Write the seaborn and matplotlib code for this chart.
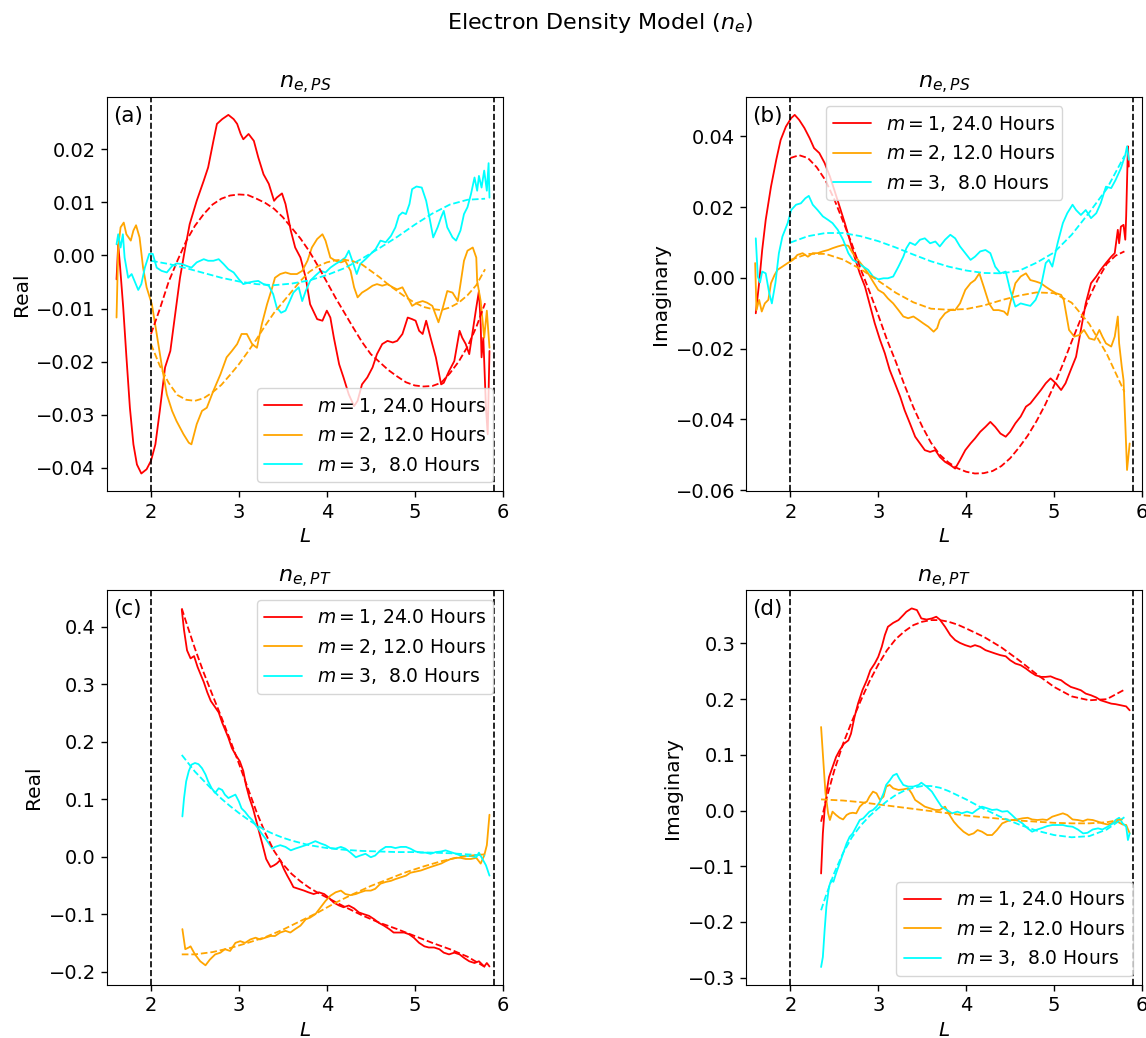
import matplotlib
matplotlib.use("Agg")
import matplotlib.pyplot as plt
import pandas as pd
import seaborn as sns
from matplotlib.ticker import MultipleLocator

# ---------------- data ----------------
mode_labels = [r"$m = 1$, 24.0 Hours", r"$m = 2$, 12.0 Hours", r"$m = 3$,  8.0 Hours"]
mode_colors = ["red", "orange", "cyan"]
x_ticks = [2, 3, 4, 5, 6]
boundary_L = [2.0, 5.9]

# (a) n_e,PS real part
a_m1_L = [1.608,1.627,1.646,1.684,1.72,1.76,1.80,1.84,1.89,1.95,2.0,2.05,2.10,2.16,2.22,2.27,2.33,2.39,2.44,2.52,2.60,2.65,2.71,2.75,2.81,2.88,2.94,2.98,3.02,3.05,3.11,3.17,3.22,3.28,3.34,3.40,3.43,3.49,3.53,3.59,3.64,3.70,3.76,3.81,3.89,3.95,4.00,4.04,4.08,4.14,4.19,4.25,4.31,4.35,4.40,4.46,4.52,4.57,4.63,4.69,4.75,4.80,4.86,4.92,4.97,5.01,5.05,5.09,5.13,5.18,5.24,5.30,5.33,5.39,5.45,5.51,5.54,5.58,5.62,5.66,5.70,5.73,5.75,5.76,5.78,5.81,5.83,5.85]
a_m1 = [-0.0045,0.0021,-0.0016,-0.0098,-0.019,-0.0287,-0.0356,-0.0394,-0.0411,-0.0403,-0.0387,-0.0356,-0.0293,-0.0211,-0.018,-0.0117,-0.0042,0.0015,0.0059,0.0103,0.0141,0.0166,0.0216,0.0248,0.0257,0.0265,0.0257,0.0248,0.0229,0.0219,0.0229,0.0216,0.0185,0.0153,0.0135,0.0103,0.0109,0.0117,0.0097,0.0047,0.0015,-0.0004,-0.0042,-0.0092,-0.012,-0.0123,-0.0104,-0.0117,-0.0155,-0.0205,-0.023,-0.0262,-0.0284,-0.0274,-0.0243,-0.023,-0.0211,-0.0186,-0.0167,-0.0161,-0.0164,-0.0161,-0.0148,-0.0117,-0.012,-0.0123,-0.0142,-0.0148,-0.0123,-0.0155,-0.0192,-0.0243,-0.024,-0.0218,-0.0199,-0.0142,-0.0155,-0.0167,-0.0186,-0.0142,-0.0098,-0.0067,-0.013,-0.0192,-0.0155,-0.0287,-0.0337,-0.018]
a_m2_L = [1.608,1.627,1.654,1.69,1.72,1.77,1.80,1.83,1.87,1.91,1.95,2.01,2.065,2.12,2.18,2.24,2.29,2.37,2.43,2.46,2.52,2.58,2.635,2.71,2.79,2.86,2.92,2.98,3.03,3.09,3.15,3.205,3.26,3.32,3.38,3.41,3.47,3.53,3.59,3.66,3.72,3.78,3.83,3.89,3.95,3.985,4.04,4.10,4.16,4.21,4.27,4.31,4.35,4.40,4.46,4.52,4.57,4.63,4.69,4.75,4.80,4.86,4.92,4.97,5.03,5.09,5.14,5.20,5.27,5.32,5.37,5.43,5.49,5.52,5.56,5.60,5.66,5.70,5.71,5.75,5.79,5.82,5.85]
a_m2 = [-0.0117,0.0015,0.0053,0.0062,0.0040,0.0028,0.0047,0.0057,0.0034,-0.0023,-0.0060,-0.0092,-0.0148,-0.0205,-0.0262,-0.0293,-0.0312,-0.0337,-0.0353,-0.0356,-0.0318,-0.0293,-0.0287,-0.0255,-0.0224,-0.0192,-0.0180,-0.0167,-0.0148,-0.0148,-0.0167,-0.0174,-0.0130,-0.0092,-0.0060,-0.0042,-0.0035,-0.0032,-0.0035,-0.0035,-0.0029,-0.0010,0.0015,0.0031,0.0040,0.0028,-0.0004,-0.0010,-0.0013,-0.0010,-0.0029,-0.0060,-0.0079,-0.0070,-0.0064,-0.0057,-0.0054,-0.0057,-0.0054,-0.0060,-0.0064,-0.0060,-0.0079,-0.0095,-0.0089,-0.0086,-0.0089,-0.0095,-0.0126,-0.0098,-0.0067,-0.0070,-0.0086,-0.0054,-0.0010,0.0009,0.0015,-0.0004,-0.0048,-0.0086,-0.0155,-0.0104,-0.0174]
a_m3_L = [1.608,1.627,1.654,1.68,1.70,1.74,1.78,1.82,1.855,1.89,1.93,1.98,2.02,2.065,2.12,2.18,2.24,2.29,2.35,2.41,2.46,2.52,2.60,2.65,2.71,2.77,2.825,2.88,2.94,3.00,3.05,3.11,3.17,3.22,3.28,3.34,3.39,3.43,3.48,3.53,3.57,3.62,3.68,3.72,3.76,3.81,3.87,3.93,3.985,4.04,4.10,4.16,4.21,4.25,4.29,4.34,4.38,4.44,4.50,4.555,4.61,4.67,4.73,4.78,4.82,4.86,4.90,4.94,4.97,5.02,5.08,5.13,5.16,5.21,5.26,5.30,5.33,5.37,5.43,5.47,5.52,5.56,5.60,5.64,5.68,5.71,5.73,5.76,5.79,5.82,5.84,5.85]
a_m3 = [0.0021,0.0040,0.0015,0.0040,-0.0004,-0.0042,-0.0035,-0.0051,-0.0065,-0.0054,-0.0023,0.0003,0.0003,-0.0023,-0.0029,-0.0032,-0.0020,-0.0015,-0.0016,-0.0020,-0.0023,-0.0013,-0.0007,-0.0010,-0.0010,-0.0007,-0.0016,-0.0026,-0.0032,-0.0045,-0.0054,-0.0051,-0.0049,-0.0048,-0.0054,-0.0057,-0.0073,-0.0098,-0.0108,-0.0104,-0.0089,-0.0070,-0.0060,-0.0086,-0.0067,-0.0048,-0.0038,-0.0029,-0.0032,-0.0023,-0.0016,-0.0010,-0.0004,0.0009,-0.0010,-0.0035,-0.0016,-0.0007,0.0003,0.0012,0.0028,0.0025,0.0037,0.0053,0.0075,0.0081,0.0078,0.0097,0.0125,0.0130,0.0128,0.0103,0.0078,0.0034,0.0053,0.0072,0.0084,0.0053,0.0034,0.0028,0.0047,0.0078,0.0091,0.0116,0.0147,0.0122,0.0150,0.0128,0.0160,0.0122,0.0174,0.0109]
fit_L_fine = [2.0,2.1,2.2,2.3,2.4,2.5,2.6,2.7,2.8,2.9,3.0,3.1,3.2,3.3,3.4,3.5,3.6,3.7,3.8,3.9,4.0,4.1,4.2,4.3,4.4,4.5,4.6,4.7,4.8,4.9,5.0,5.1,5.2,5.3,5.4,5.5,5.6,5.7,5.8]
fit_L_coarse = [2.0,2.2,2.4,2.6,2.8,3.0,3.2,3.4,3.6,3.8,4.0,4.2,4.4,4.6,4.8,5.0,5.2,5.4,5.6,5.8]
a_m1_fit = [-0.0148,-0.0101,-0.0050,-0.0010,0.0027,0.0056,0.0078,0.0096,0.0107,0.0113,0.0115,0.0114,0.0107,0.0099,0.0088,0.0072,0.0052,0.0032,0.0008,-0.0020,-0.0050,-0.0080,-0.0108,-0.0136,-0.0163,-0.0186,-0.0201,-0.0216,-0.0228,-0.0239,-0.0245,-0.0247,-0.0246,-0.0240,-0.0222,-0.0200,-0.0172,-0.0135,-0.0090]
a_m2_fit = [-0.0167,-0.0208,-0.0240,-0.0263,-0.0272,-0.0274,-0.0269,-0.0258,-0.0244,-0.0225,-0.0205,-0.0182,-0.0158,-0.0132,-0.0108,-0.0088,-0.0068,-0.0048,-0.0031,-0.0020,-0.0013,-0.0009,-0.0008,-0.0011,-0.0017,-0.0029,-0.0041,-0.0055,-0.0067,-0.0079,-0.0089,-0.0097,-0.0101,-0.0103,-0.0098,-0.0089,-0.0075,-0.0056,-0.0026]
a_m3_fit = [-0.0010,-0.0016,-0.0024,-0.0033,-0.0042,-0.0049,-0.0054,-0.0056,-0.0053,-0.0047,-0.0037,-0.0024,-0.0006,0.0014,0.0035,0.0058,0.0079,0.0096,0.0105,0.0107]

# (b) n_e,PS imaginary part
b_m1_L = [1.607,1.645,1.68,1.72,1.78,1.84,1.89,1.95,2.01,2.05,2.10,2.16,2.22,2.27,2.33,2.39,2.45,2.50,2.56,2.62,2.675,2.73,2.79,2.85,2.90,2.96,3.02,3.075,3.13,3.19,3.25,3.30,3.36,3.42,3.475,3.53,3.59,3.65,3.70,3.76,3.82,3.875,3.93,3.99,4.05,4.10,4.16,4.22,4.275,4.33,4.39,4.45,4.50,4.56,4.62,4.68,4.73,4.79,4.85,4.905,4.96,5.02,5.08,5.13,5.19,5.25,5.305,5.36,5.42,5.48,5.53,5.59,5.65,5.69,5.725,5.74,5.76,5.79,5.81,5.82,5.84,5.85]
b_m1 = [-0.0100,-0.0015,0.0079,0.0164,0.0258,0.0334,0.0390,0.0428,0.0452,0.0461,0.0447,0.0424,0.0395,0.0367,0.0353,0.0325,0.0287,0.0249,0.0202,0.0155,0.0108,0.0060,0.0013,-0.0025,-0.0072,-0.0128,-0.0175,-0.0213,-0.0260,-0.0298,-0.0336,-0.0374,-0.0411,-0.0449,-0.0468,-0.0487,-0.0492,-0.0487,-0.0506,-0.0520,-0.0529,-0.0539,-0.0515,-0.0487,-0.0468,-0.0454,-0.0435,-0.0421,-0.0407,-0.0421,-0.0440,-0.0449,-0.0435,-0.0411,-0.0392,-0.0364,-0.0355,-0.0336,-0.0317,-0.0298,-0.0284,-0.0298,-0.0317,-0.0298,-0.0260,-0.0223,-0.0147,-0.0072,-0.0015,0.0004,0.0023,0.0042,0.0060,0.0070,0.0136,0.0098,0.0145,0.0150,0.0108,0.0174,0.0372,0.0315]
b_m2_L = [1.60,1.615,1.645,1.675,1.71,1.75,1.78,1.82,1.855,1.91,1.97,2.03,2.08,2.14,2.20,2.255,2.31,2.37,2.43,2.48,2.54,2.60,2.66,2.71,2.77,2.83,2.885,2.94,3.00,3.06,3.11,3.17,3.23,3.285,3.34,3.40,3.46,3.51,3.57,3.63,3.67,3.70,3.76,3.82,3.875,3.93,3.99,4.05,4.10,4.15,4.20,4.26,4.31,4.37,4.43,4.47,4.50,4.56,4.62,4.68,4.73,4.79,4.85,4.905,4.96,5.02,5.08,5.11,5.17,5.23,5.29,5.34,5.40,5.46,5.515,5.55,5.59,5.65,5.69,5.725,5.74,5.77,5.79,5.81,5.83,5.86]
b_m2 = [0.0042,-0.0091,-0.0062,-0.0095,-0.0072,-0.0062,-0.0015,0.0008,0.0023,0.0032,0.0042,0.0051,0.0065,0.0070,0.0060,0.0070,0.0070,0.0075,0.0079,0.0084,0.0089,0.0093,0.0091,0.0070,0.0051,0.0032,0.0013,-0.0010,-0.0034,-0.0043,-0.0058,-0.0072,-0.0091,-0.0109,-0.0114,-0.0109,-0.0119,-0.0128,-0.0138,-0.0152,-0.0142,-0.0119,-0.0100,-0.0091,-0.0091,-0.0072,-0.0034,-0.0015,-0.0006,0.0013,-0.0025,-0.0072,-0.0091,-0.0091,-0.0095,-0.0105,-0.0072,-0.0015,0.0004,0.0013,-0.0006,-0.0010,-0.0015,-0.0025,-0.0034,-0.0043,-0.0048,-0.0062,-0.0147,-0.0166,-0.0161,-0.0147,-0.0171,-0.0175,-0.0147,-0.0166,-0.0185,-0.0194,-0.0166,-0.0109,-0.0185,-0.0251,-0.0289,-0.0411,-0.0543,-0.0468]
b_m3_L = [1.607,1.63,1.655,1.68,1.72,1.76,1.79,1.83,1.87,1.91,1.97,2.01,2.065,2.12,2.17,2.21,2.255,2.31,2.37,2.43,2.48,2.54,2.60,2.66,2.71,2.77,2.83,2.885,2.94,3.00,3.06,3.11,3.17,3.23,3.285,3.32,3.36,3.42,3.475,3.53,3.59,3.65,3.70,3.76,3.82,3.875,3.93,3.99,4.05,4.10,4.16,4.22,4.275,4.33,4.39,4.45,4.50,4.56,4.62,4.68,4.73,4.79,4.85,4.905,4.94,4.98,5.04,5.10,5.15,5.21,5.25,5.305,5.36,5.42,5.48,5.53,5.59,5.65,5.70,5.76,5.81,5.83,5.85]
b_m3 = [0.0112,0.0004,-0.0013,0.0018,0.0013,-0.0043,-0.0072,-0.0015,0.0070,0.0117,0.0155,0.0192,0.0207,0.0211,0.0225,0.0232,0.0207,0.0192,0.0174,0.0164,0.0155,0.0136,0.0108,0.0070,0.0051,0.0042,0.0032,0.0023,0.0004,-0.0004,-0.0001,-0.0001,0.0004,0.0032,0.0060,0.0084,0.0100,0.0093,0.0108,0.0112,0.0098,0.0103,0.0089,0.0108,0.0122,0.0112,0.0089,0.0070,0.0051,0.0060,0.0075,0.0079,0.0070,0.0032,0.0013,0.0018,-0.0034,-0.0081,-0.0072,-0.0076,-0.0079,-0.0062,-0.0025,0.0042,0.0051,0.0032,0.0098,0.0155,0.0183,0.0207,0.0192,0.0178,0.0192,0.0169,0.0183,0.0211,0.0258,0.0254,0.0277,0.0310,0.0348,0.0372,0.0334]
b_m1_fit = [0.0339,0.0347,0.0339,0.0313,0.0276,0.0222,0.0160,0.0096,0.0025,-0.0038,-0.0105,-0.0175,-0.0237,-0.0304,-0.0366,-0.0420,-0.0466,-0.0500,-0.0522,-0.0538,-0.0548,-0.0553,-0.0552,-0.0546,-0.0532,-0.0510,-0.0480,-0.0446,-0.0405,-0.0358,-0.0304,-0.0244,-0.0180,-0.0118,-0.0055,-0.0003,0.0040,0.0063,0.0075]
b_m2_fit = [0.0051,0.0068,0.0068,0.0052,0.0025,-0.0008,-0.0042,-0.0069,-0.0087,-0.0090,-0.0088,-0.0078,-0.0063,-0.0050,-0.0041,-0.0043,-0.0070,-0.0130,-0.0215,-0.0322]
b_m3_fit = [0.0100,0.0118,0.0127,0.0127,0.0118,0.0104,0.0086,0.0066,0.0047,0.0032,0.0021,0.0014,0.0013,0.0020,0.0043,0.0072,0.0122,0.0185,0.0252,0.0345]

# (c) n_e,PT real part
c_m1_L = [2.35,2.376,2.41,2.45,2.49,2.53,2.57,2.60,2.64,2.68,2.73,2.77,2.81,2.84,2.88,2.92,2.96,3.01,3.05,3.08,3.12,3.16,3.20,3.24,3.27,3.31,3.36,3.40,3.43,3.47,3.51,3.55,3.59,3.62,3.68,3.74,3.79,3.85,3.91,3.97,4.02,4.08,4.14,4.19,4.25,4.31,4.365,4.42,4.48,4.54,4.59,4.65,4.71,4.76,4.82,4.88,4.935,4.99,5.05,5.11,5.16,5.22,5.28,5.33,5.39,5.45,5.51,5.56,5.62,5.68,5.73,5.79,5.82,5.85]
c_m1 = [0.430,0.394,0.359,0.345,0.349,0.330,0.315,0.304,0.286,0.271,0.260,0.251,0.233,0.222,0.207,0.189,0.178,0.166,0.149,0.125,0.102,0.084,0.061,0.037,0.020,-0.004,-0.018,-0.015,-0.012,-0.006,-0.021,-0.033,-0.044,-0.053,-0.056,-0.059,-0.062,-0.065,-0.062,-0.065,-0.071,-0.080,-0.085,-0.088,-0.085,-0.090,-0.097,-0.100,-0.103,-0.109,-0.115,-0.120,-0.126,-0.132,-0.132,-0.132,-0.135,-0.141,-0.150,-0.156,-0.158,-0.158,-0.161,-0.167,-0.170,-0.167,-0.170,-0.176,-0.182,-0.185,-0.182,-0.191,-0.185,-0.191]
c_m2_L = [2.357,2.39,2.43,2.45,2.50,2.56,2.62,2.67,2.73,2.79,2.84,2.90,2.96,3.015,3.07,3.13,3.19,3.24,3.30,3.36,3.41,3.47,3.53,3.585,3.64,3.70,3.76,3.81,3.87,3.93,3.985,4.04,4.10,4.16,4.21,4.27,4.33,4.38,4.44,4.50,4.55,4.61,4.67,4.73,4.78,4.84,4.90,4.95,5.01,5.07,5.125,5.18,5.24,5.30,5.35,5.41,5.47,5.52,5.58,5.64,5.70,5.75,5.79,5.82,5.85]
c_m2 = [-0.126,-0.161,-0.158,-0.156,-0.170,-0.182,-0.189,-0.179,-0.170,-0.167,-0.161,-0.164,-0.150,-0.147,-0.150,-0.144,-0.141,-0.144,-0.141,-0.138,-0.138,-0.132,-0.129,-0.132,-0.126,-0.120,-0.109,-0.106,-0.100,-0.088,-0.077,-0.068,-0.062,-0.059,-0.065,-0.067,-0.065,-0.062,-0.059,-0.059,-0.056,-0.047,-0.044,-0.042,-0.039,-0.036,-0.033,-0.028,-0.026,-0.024,-0.021,-0.018,-0.015,-0.012,-0.008,-0.004,-0.002,-0.002,-0.004,-0.004,-0.002,-0.012,0.002,0.020,0.073]
c_m3_L = [2.357,2.376,2.40,2.43,2.46,2.50,2.54,2.58,2.62,2.65,2.69,2.73,2.77,2.81,2.84,2.88,2.92,2.96,3.00,3.03,3.07,3.11,3.15,3.19,3.22,3.26,3.30,3.34,3.38,3.41,3.47,3.53,3.59,3.64,3.70,3.76,3.81,3.87,3.93,3.985,4.04,4.10,4.16,4.21,4.27,4.33,4.38,4.44,4.50,4.55,4.61,4.67,4.73,4.78,4.84,4.90,4.95,5.01,5.07,5.125,5.18,5.24,5.30,5.35,5.41,5.47,5.52,5.58,5.64,5.70,5.73,5.77,5.81,5.85]
c_m3 = [0.070,0.102,0.131,0.149,0.160,0.163,0.161,0.154,0.143,0.131,0.119,0.111,0.119,0.116,0.108,0.102,0.105,0.108,0.096,0.084,0.078,0.070,0.064,0.055,0.049,0.040,0.032,0.023,0.014,0.017,0.020,0.017,0.011,0.014,0.017,0.020,0.023,0.027,0.023,0.020,0.015,0.014,0.017,0.014,0.007,-0.001,0.002,0.005,-0.001,0.002,0.011,0.017,0.017,0.015,0.017,0.017,0.014,0.009,0.007,0.007,0.005,0.008,0.009,0.011,0.008,0.005,0.002,0.001,0.001,-0.001,0.007,-0.004,-0.015,-0.033]
c_m1_fit_L = [2.35,2.4,2.5,2.6,2.7,2.8,2.9,3.0,3.1,3.2,3.3,3.4,3.5,3.6,3.7,3.8,3.9,4.0,4.2,4.4,4.6,4.8,5.0,5.2,5.4,5.6,5.8]
c_m1_fit = [0.432,0.408,0.362,0.320,0.281,0.243,0.203,0.162,0.120,0.078,0.041,0.010,-0.013,-0.030,-0.043,-0.054,-0.063,-0.071,-0.087,-0.102,-0.115,-0.126,-0.138,-0.150,-0.161,-0.174,-0.192]
c_m2_fit_L = [2.35,2.5,2.7,2.9,3.1,3.3,3.5,3.7,3.9,4.1,4.3,4.5,4.7,4.9,5.1,5.3,5.5,5.7,5.8]
c_m2_fit = [-0.170,-0.170,-0.166,-0.159,-0.150,-0.140,-0.127,-0.112,-0.097,-0.080,-0.065,-0.051,-0.039,-0.027,-0.017,-0.008,-0.001,0.003,0.004]
c_m3_fit_L = [2.35,2.5,2.6,2.7,2.8,2.9,3.0,3.1,3.2,3.3,3.4,3.5,3.6,3.8,4.0,4.2,4.4,4.6,4.8,5.0,5.2,5.4,5.6,5.8]
c_m3_fit = [0.177,0.148,0.132,0.116,0.101,0.088,0.076,0.065,0.055,0.046,0.039,0.033,0.028,0.020,0.015,0.012,0.010,0.009,0.008,0.008,0.007,0.006,0.004,0.002]

# (d) n_e,PT imaginary part
d_m1_L = [2.35,2.37,2.39,2.41,2.44,2.48,2.52,2.56,2.61,2.66,2.69,2.73,2.77,2.82,2.87,2.91,2.96,3.00,3.04,3.075,3.11,3.17,3.23,3.285,3.32,3.38,3.44,3.49,3.55,3.61,3.66,3.70,3.76,3.82,3.875,3.93,3.99,4.05,4.10,4.16,4.22,4.275,4.33,4.39,4.45,4.50,4.56,4.62,4.68,4.73,4.79,4.85,4.905,4.96,5.02,5.08,5.13,5.19,5.25,5.305,5.36,5.42,5.48,5.53,5.59,5.65,5.70,5.76,5.82,5.86]
d_m1 = [-0.113,-0.041,0.001,0.031,0.060,0.078,0.096,0.108,0.120,0.126,0.138,0.168,0.192,0.216,0.234,0.252,0.264,0.276,0.294,0.315,0.330,0.337,0.342,0.351,0.357,0.363,0.360,0.345,0.343,0.345,0.348,0.343,0.330,0.315,0.306,0.301,0.297,0.294,0.297,0.294,0.288,0.285,0.282,0.279,0.277,0.270,0.264,0.261,0.255,0.249,0.243,0.240,0.240,0.241,0.237,0.234,0.228,0.222,0.219,0.216,0.210,0.207,0.203,0.198,0.195,0.192,0.191,0.189,0.187,0.180]
d_m2_L = [2.35,2.38,2.40,2.43,2.45,2.48,2.52,2.56,2.60,2.64,2.675,2.71,2.75,2.79,2.83,2.87,2.90,2.94,2.98,3.02,3.06,3.09,3.13,3.17,3.23,3.285,3.34,3.38,3.42,3.475,3.53,3.59,3.65,3.70,3.76,3.80,3.86,3.91,3.97,4.03,4.085,4.13,4.18,4.24,4.295,4.35,4.41,4.47,4.52,4.58,4.64,4.70,4.75,4.81,4.87,4.92,4.98,5.04,5.10,5.15,5.21,5.27,5.33,5.38,5.44,5.50,5.55,5.61,5.67,5.72,5.78,5.82,5.86]
d_m2 = [0.150,0.078,0.031,-0.005,-0.017,-0.002,-0.008,-0.013,-0.016,-0.008,-0.005,-0.004,-0.005,0.007,0.013,0.016,0.025,0.034,0.031,0.019,0.025,0.043,0.046,0.040,0.037,0.038,0.040,0.031,0.019,0.013,0.007,0.004,0.001,0.001,0.007,-0.005,-0.020,-0.029,-0.038,-0.044,-0.041,-0.035,-0.038,-0.044,-0.044,-0.035,-0.023,-0.019,-0.017,-0.016,-0.014,-0.013,-0.016,-0.017,-0.016,-0.017,-0.011,-0.008,-0.005,-0.008,-0.016,-0.017,-0.019,-0.016,-0.017,-0.020,-0.023,-0.025,-0.022,-0.020,-0.025,-0.026,-0.041]
d_m3_L = [2.35,2.37,2.39,2.41,2.44,2.465,2.49,2.52,2.56,2.60,2.64,2.675,2.71,2.75,2.79,2.83,2.865,2.90,2.94,2.98,3.02,3.06,3.09,3.13,3.17,3.21,3.24,3.285,3.34,3.40,3.46,3.49,3.55,3.61,3.67,3.72,3.78,3.84,3.90,3.95,4.01,4.07,4.12,4.18,4.24,4.295,4.35,4.41,4.47,4.52,4.58,4.64,4.70,4.75,4.81,4.87,4.92,4.98,5.04,5.10,5.15,5.21,5.27,5.33,5.38,5.44,5.50,5.55,5.61,5.67,5.70,5.74,5.78,5.82,5.84,5.86]
d_m3 = [-0.281,-0.263,-0.215,-0.173,-0.137,-0.125,-0.128,-0.113,-0.095,-0.077,-0.059,-0.047,-0.041,-0.029,-0.017,-0.014,-0.008,-0.002,0.001,0.007,0.016,0.031,0.046,0.054,0.063,0.066,0.057,0.046,0.043,0.043,0.046,0.050,0.043,0.034,0.019,0.007,0.001,-0.005,-0.002,-0.005,-0.002,-0.005,0.001,0.007,0.004,0.001,0.002,-0.002,-0.001,-0.008,-0.017,-0.023,-0.032,-0.038,-0.034,-0.031,-0.028,-0.026,-0.026,-0.026,-0.028,-0.029,-0.034,-0.041,-0.040,-0.034,-0.032,-0.034,-0.029,-0.023,-0.017,-0.013,-0.023,-0.029,-0.053,-0.041]
d_m1_fit_L = [2.35,2.4,2.5,2.6,2.7,2.8,2.9,3.0,3.1,3.2,3.3,3.4,3.5,3.6,3.7,3.8,3.9,4.0,4.2,4.4,4.6,4.8,5.0,5.2,5.4,5.6,5.8]
d_m1_fit = [-0.020,0.015,0.072,0.120,0.160,0.197,0.232,0.262,0.288,0.308,0.322,0.333,0.339,0.342,0.342,0.339,0.334,0.327,0.312,0.293,0.270,0.245,0.222,0.205,0.198,0.200,0.217]
d_m2_fit_L = [2.35,2.6,2.8,3.0,3.2,3.4,3.6,3.8,4.0,4.2,4.4,4.6,4.8,5.0,5.2,5.4,5.6,5.8]
d_m2_fit = [0.020,0.018,0.015,0.011,0.007,0.003,-0.001,-0.005,-0.009,-0.012,-0.015,-0.018,-0.020,-0.022,-0.023,-0.023,-0.021,-0.015]
d_m3_fit_L = [2.35,2.4,2.5,2.6,2.7,2.8,2.9,3.0,3.1,3.2,3.3,3.4,3.5,3.6,3.7,3.8,4.0,4.2,4.4,4.6,4.8,5.0,5.2,5.4,5.6,5.8]
d_m3_fit = [-0.179,-0.155,-0.112,-0.076,-0.048,-0.027,-0.010,0.004,0.017,0.028,0.036,0.041,0.044,0.044,0.041,0.035,0.020,0.003,-0.012,-0.025,-0.036,-0.044,-0.048,-0.046,-0.034,-0.012]


def long_frame(series):
    """series: list of (L list, value list) pairs, one per mode."""
    parts = []
    for label, (xs, ys) in zip(mode_labels, series):
        parts.append(pd.DataFrame({"L": xs, "value": ys, "mode": label}))
    return pd.concat(parts, ignore_index=True)


panels = [
    dict(tag="(a)", title=r"$n_{e,PS}$", ylabel="Real", step=0.01, loc="lower right",
         data=[(a_m1_L, a_m1), (a_m2_L, a_m2), (a_m3_L, a_m3)],
         fit=[(fit_L_fine, a_m1_fit), (fit_L_fine, a_m2_fit), (fit_L_coarse, a_m3_fit)]),
    dict(tag="(b)", title=r"$n_{e,PS}$", ylabel="Imaginary", step=0.02, loc="upper center",
         data=[(b_m1_L, b_m1), (b_m2_L, b_m2), (b_m3_L, b_m3)],
         fit=[(fit_L_fine, b_m1_fit), (fit_L_coarse, b_m2_fit), (fit_L_coarse, b_m3_fit)]),
    dict(tag="(c)", title=r"$n_{e,PT}$", ylabel="Real", step=0.1, loc="upper right",
         data=[(c_m1_L, c_m1), (c_m2_L, c_m2), (c_m3_L, c_m3)],
         fit=[(c_m1_fit_L, c_m1_fit), (c_m2_fit_L, c_m2_fit), (c_m3_fit_L, c_m3_fit)]),
    dict(tag="(d)", title=r"$n_{e,PT}$", ylabel="Imaginary", step=0.1, loc="lower right",
         data=[(d_m1_L, d_m1), (d_m2_L, d_m2), (d_m3_L, d_m3)],
         fit=[(d_m1_fit_L, d_m1_fit), (d_m2_fit_L, d_m2_fit), (d_m3_fit_L, d_m3_fit)]),
]

# ---------------- style ----------------
sns.set_style("ticks", {"axes.edgecolor": "black", "xtick.color": "black",
                        "ytick.color": "black", "text.color": "black",
                        "axes.labelcolor": "black"})
plt.rcParams["font.family"] = ["DejaVu Sans"]
plt.rcParams["mathtext.fontset"] = "dejavusans"

fig, axes = plt.subplots(2, 2, figsize=(11.46, 10.38), dpi=100)
fig.subplots_adjust(left=0.0934, right=0.9965, top=0.9066, bottom=0.0511,
                    wspace=0.616, hspace=0.251)

palette = dict(zip(mode_labels, mode_colors))
for ax, p in zip(axes.flat, panels):
    obs = long_frame(p["data"])
    fit = long_frame(p["fit"])
    sns.lineplot(data=obs, x="L", y="value", hue="mode", palette=palette,
                 estimator=None, sort=False, linewidth=1.3, ax=ax)
    sns.lineplot(data=fit, x="L", y="value", hue="mode", palette=palette,
                 estimator=None, sort=False, linewidth=1.3, linestyle="--",
                 legend=False, ax=ax)
    for xb in boundary_L:
        ax.axvline(xb, color="black", linestyle="--", linewidth=1.2)
    ax.set_xlim(1.5, 6.0)
    ax.set_xticks(x_ticks)
    ax.yaxis.set_major_locator(MultipleLocator(p["step"]))
    ax.tick_params(labelsize=14, length=4.5, width=1)
    ax.set_xlabel(r"$L$", fontsize=14.5)
    ax.set_ylabel(p["ylabel"], fontsize=14.5)
    ax.set_title(p["title"], fontsize=16)
    ax.text(0.015, 0.978, p["tag"], transform=ax.transAxes, ha="left", va="top",
            fontsize=15.5)
    sns.move_legend(ax, p["loc"], title=None, fontsize=13.5, frameon=True,
                    framealpha=0.8, edgecolor="0.8")

fig.suptitle(r"Electron Density Model ($n_e$)", x=0.5235, y=0.989, fontsize=16)
fig.savefig("out.png", dpi=100)
